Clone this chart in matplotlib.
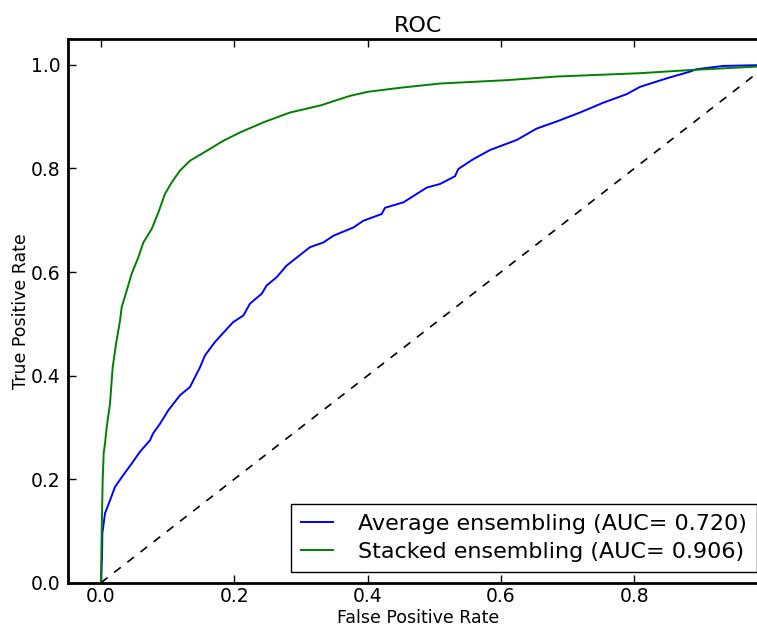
import matplotlib
matplotlib.use('Agg')
import matplotlib.pyplot as plt

# ROC points
fpr_avg = [0.0, 0.0015, 0.002, 0.006, 0.0135, 0.021, 0.0335, 0.046, 0.0585, 0.0735,
           0.078, 0.0885, 0.101, 0.1185, 0.1335, 0.1485, 0.156, 0.171, 0.198, 0.2135,
           0.2235, 0.241, 0.2485, 0.2635, 0.2785, 0.3135, 0.3335, 0.3485, 0.3785, 0.3935,
           0.421, 0.426, 0.4535, 0.4885, 0.5085, 0.531, 0.536, 0.5585, 0.5835, 0.6235,
           0.6535, 0.6835, 0.7185, 0.7535, 0.7885, 0.8085, 0.8485, 0.8835, 0.8935, 0.9335,
           0.9835, 1.0]
tpr_avg = [0.0, 0.05, 0.095, 0.134, 0.159, 0.185, 0.208, 0.230, 0.253, 0.275,
           0.288, 0.307, 0.333, 0.362, 0.378, 0.416, 0.439, 0.465, 0.503, 0.516,
           0.539, 0.558, 0.574, 0.590, 0.6125, 0.648, 0.657, 0.670, 0.686, 0.699,
           0.712, 0.724, 0.7345, 0.763, 0.770, 0.785, 0.799, 0.818, 0.8356, 0.855,
           0.877, 0.8907, 0.908, 0.927, 0.9435, 0.9576, 0.974, 0.987, 0.9917, 0.998,
           0.9994, 1.0]

fpr_stack = [0.0, 0.001, 0.0025, 0.004, 0.006, 0.0085, 0.0135, 0.0175, 0.0225, 0.0285,
             0.031, 0.0385, 0.046, 0.056, 0.0635, 0.076, 0.086, 0.096, 0.106, 0.1185,
             0.1335, 0.1585, 0.1835, 0.2085, 0.2435, 0.2835, 0.33, 0.373, 0.40, 0.45,
             0.5085, 0.6085, 0.6835, 0.8085, 0.8835, 0.9835, 1.0]
tpr_stack = [0.0, 0.10, 0.198, 0.25, 0.269, 0.30, 0.346, 0.416, 0.461, 0.506,
             0.532, 0.564, 0.5965, 0.6285, 0.657, 0.683, 0.715, 0.751, 0.773, 0.796,
             0.815, 0.834, 0.8535, 0.8695, 0.889, 0.908, 0.922, 0.94, 0.948, 0.956,
             0.964, 0.9705, 0.9775, 0.984, 0.99, 0.9967, 1.0]

auc_avg = 0.720
auc_stack = 0.906

plt.rcParams['lines.scale_dashes'] = False

fig = plt.figure(figsize=(7.57, 6.26), dpi=100)
ax = fig.add_axes([0.0894, 0.0692, 0.9247, 0.8685])

ax.plot(fpr_avg, tpr_avg, color='b', lw=1.4,
        label='Average ensembling (AUC= %0.3f)' % auc_avg)
ax.plot(fpr_stack, tpr_stack, color='g', lw=1.4,
        label='Stacked ensembling (AUC= %0.3f)' % auc_stack)
ax.plot([0, 1], [0, 1], color='k', lw=1.2, dashes=(6, 6))

ax.set_xlim(-0.05, 1.0)
ax.set_ylim(0.0, 1.05)
ax.set_xticks([0.0, 0.2, 0.4, 0.6, 0.8])
ax.set_yticks([0.0, 0.2, 0.4, 0.6, 0.8, 1.0])

ax.tick_params(direction='in', length=6, width=1, labelsize=13.5,
               top=True, right=True)
ax.tick_params(axis='x', pad=3)
ax.tick_params(axis='y', pad=5)
for s in ax.spines.values():
    s.set_linewidth(2)

ax.set_xlabel('False Positive Rate', fontsize=12.5, labelpad=2)
ax.set_ylabel('True Positive Rate', fontsize=12.5, labelpad=1)
ax.set_title('ROC', fontsize=16, pad=5)

leg = ax.legend(loc='lower right', fontsize=16, fancybox=False, framealpha=1,
                handlelength=1.45, handletextpad=1.1, borderpad=0.45,
                labelspacing=0.35, borderaxespad=0.5)
leg.get_frame().set_edgecolor('k')

fig.savefig('out.png', dpi=100)
